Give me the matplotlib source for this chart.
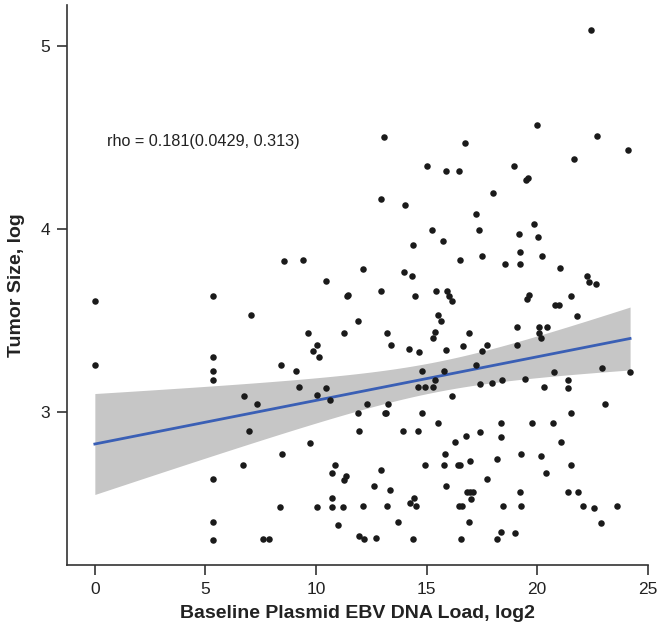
import matplotlib
matplotlib.use('Agg')
import numpy as np
import matplotlib.pyplot as plt

plt.rcParams['font.family'] = ['Liberation Sans', 'DejaVu Sans']

# baseline plasmid EBV DNA load (log2) vs tumor size (log)
ebv_load = [
    0.00, 0.00, 5.33, 5.33, 5.33, 5.33, 5.33, 5.36, 5.33, 7.07,
    6.75, 7.32, 6.96, 6.70, 7.62, 7.89, 8.57, 9.39, 10.44, 11.39,
    11.46, 8.41, 9.10, 9.24, 8.45, 8.36, 9.64, 10.04, 9.86, 10.14,
    10.06, 10.46, 10.61, 9.72, 10.88, 10.71, 11.35, 11.28, 10.71, 10.06,
    10.74, 11.24, 11.01, 11.28, 11.89, 11.89, 11.96, 11.96, 12.14, 12.17,
    12.30, 12.60, 12.69, 12.94, 13.20, 13.40, 12.93, 13.35, 13.21, 13.70,
    13.11, 13.17, 13.25, 13.94, 14.22, 14.47, 14.67, 14.81, 14.60, 14.93,
    15.29, 14.81, 14.60, 14.24, 14.43, 14.51, 14.40, 14.93, 15.43, 15.91,
    16.02, 16.14, 15.51, 15.64, 15.37, 15.28, 15.88, 15.79, 15.38, 15.52,
    15.85, 15.79, 15.87, 16.17, 16.29, 16.42, 16.51, 16.76, 16.97, 16.92,
    16.65, 17.24, 17.40, 17.50, 17.72, 17.43, 17.97, 18.40, 18.37, 18.37,
    18.17, 17.75, 16.82, 16.97, 17.12, 17.01, 16.46, 16.59, 16.92, 16.55,
    18.20, 18.38, 18.47, 19.01, 19.20, 19.26, 19.29, 19.76, 19.47, 19.08,
    19.08, 19.53, 19.65, 20.07, 20.43, 20.07, 20.16, 20.31, 20.16, 20.40,
    20.73, 21.07, 20.76, 20.82, 20.99, 21.52, 21.82, 21.40, 21.40, 21.53,
    21.53, 21.40, 21.85, 22.06, 22.57, 22.87, 23.60, 22.33, 22.66, 22.93,
    23.06, 24.20, 13.07, 15.02, 15.88, 16.47, 12.94, 14.01, 15.23, 14.39,
    15.76, 12.14, 13.97, 14.36, 16.74, 17.25, 17.39, 18.02, 18.97, 19.48,
    19.60, 20.00, 19.17, 19.85, 20.05, 19.20, 19.20, 20.21, 18.55, 17.52,
    16.53, 21.05, 22.24, 21.68, 22.72, 24.10, 22.42,
]
tumor_size = [
    3.607, 3.255, 3.634, 3.297, 3.221, 3.175, 2.632, 2.397, 2.301, 3.527,
    3.087, 3.044, 2.893, 2.707, 2.304, 2.304, 3.823, 3.829, 3.714, 3.634,
    3.638, 3.254, 3.221, 3.137, 2.769, 2.481, 3.430, 3.366, 3.332, 3.297,
    3.091, 3.131, 3.066, 2.831, 2.709, 2.667, 2.650, 2.627, 2.530, 2.481,
    2.481, 2.481, 2.381, 3.430, 3.496, 2.995, 2.893, 2.322, 2.485, 2.304,
    3.044, 2.596, 2.311, 3.661, 3.430, 3.366, 2.683, 2.572, 2.485, 2.396,
    2.995, 2.995, 3.042, 2.893, 3.343, 3.634, 3.326, 3.221, 3.135, 3.135,
    3.135, 2.995, 2.893, 2.503, 2.530, 2.483, 2.303, 2.707, 3.661, 3.661,
    3.634, 3.607, 3.527, 3.494, 3.434, 3.401, 3.335, 3.221, 3.173, 2.940,
    2.770, 2.707, 2.596, 3.087, 2.833, 2.707, 2.707, 2.866, 2.731, 3.430,
    3.359, 3.255, 3.153, 3.333, 3.363, 2.891, 3.155, 3.173, 2.940, 2.860,
    2.742, 2.631, 2.563, 2.563, 2.563, 2.525, 2.483, 2.483, 2.396, 2.303,
    2.303, 2.343, 2.483, 2.339, 2.563, 2.483, 2.770, 2.940, 3.180, 3.364,
    3.464, 3.614, 3.636, 3.464, 3.464, 3.432, 3.403, 3.137, 2.760, 2.663,
    2.940, 2.833, 3.219, 3.581, 3.581, 3.634, 3.525, 3.173, 3.129, 2.993,
    2.709, 2.563, 2.563, 2.483, 2.475, 2.393, 2.483, 3.710, 3.698, 3.240,
    3.042, 3.219, 4.499, 4.343, 4.317, 4.317, 4.162, 4.130, 3.991, 3.913,
    3.931, 3.780, 3.762, 3.740, 4.467, 4.079, 3.991, 4.193, 4.343, 4.264,
    4.275, 4.567, 3.969, 4.026, 3.953, 3.871, 3.807, 3.849, 3.807, 3.849,
    3.827, 3.785, 3.742, 4.383, 4.508, 4.432, 5.086,
]
rho_text = "rho = 0.181(0.0429, 0.313)"

x = np.array(ebv_load)
y = np.array(tumor_size)

# ordinary least squares fit with 95% confidence band
n = len(x)
slope, intercept = np.polyfit(x, y, 1)
resid = y - (intercept + slope * x)
s = np.sqrt(np.sum(resid ** 2) / (n - 2))
xx = np.linspace(x.min(), x.max(), 200)
yy = intercept + slope * xx
se = s * np.sqrt(1.0 / n + (xx - x.mean()) ** 2 / np.sum((x - x.mean()) ** 2))
tcrit = 1.972

fig = plt.figure(figsize=(6.61, 6.32), dpi=100)
ax = fig.add_axes([0.101, 0.106, 0.879, 0.886])

ax.fill_between(xx, yy - tcrit * se, yy + tcrit * se, color='#c6c6c6', lw=0, zorder=1)
ax.plot(xx, yy, color='#3a5fb5', lw=2, zorder=2)
ax.scatter(x, y, s=22, color='#1a1a1a', lw=0, zorder=3)

ax.text(0.54, 4.475, rho_text, fontsize=11.7, va='center', ha='left', color='#222222')

ax.set_xlim(-1.27, 25)
ax.set_ylim(2.162, 5.222)
ax.set_xticks([0, 5, 10, 15, 20, 25])
ax.set_yticks([3, 4, 5])
for sp in ['top', 'right']:
    ax.spines[sp].set_visible(False)
for sp in ['left', 'bottom']:
    ax.spines[sp].set_color('#333333')
    ax.spines[sp].set_linewidth(1.2)
ax.tick_params(axis='both', direction='out', length=7, width=1.2, color='#333333',
               labelsize=12.5, labelcolor='#222222', pad=5)

ax.set_xlabel('Baseline Plasmid EBV DNA Load, log2', fontsize=14, fontweight='bold',
              color='#222222', labelpad=6)
ax.set_ylabel('Tumor Size, log', fontsize=14, fontweight='bold', color='#222222', labelpad=11)

fig.savefig('out.png', dpi=100)
